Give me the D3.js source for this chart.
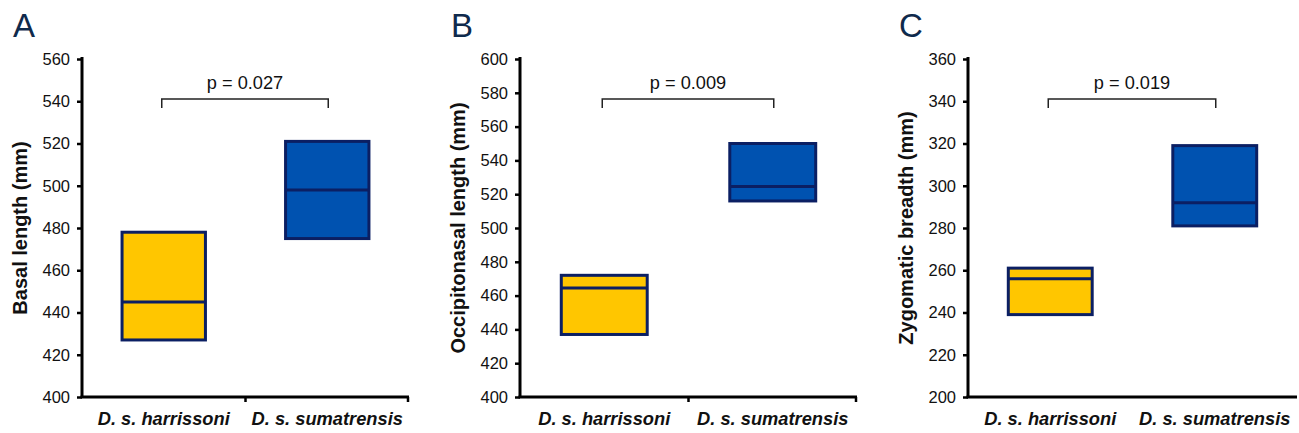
<!DOCTYPE html>
<html><head><meta charset="utf-8">
<script src="https://cdn.jsdelivr.net/npm/d3@7"></script>
<style>body{margin:0;background:#fff}svg{display:block}</style>
</head><body>
<script>
const categories = ["D. s. harrissoni", "D. s. sumatrensis"];
const panelLetters = ["A", "B", "C"];
const yTitles = ["Basal length (mm)", "Occipitonasal length (mm)", "Zygomatic breadth (mm)"];
const yDomains = [[400, 560], [400, 600], [200, 360]];
const pLabels = ["p = 0.027", "p = 0.009", "p = 0.019"];

// box values per category: [harrissoni, sumatrensis]
const basalLow = [427, 475], basalMedian = [445, 498], basalHigh = [478, 521];
const occLow = [437, 516], occMedian = [464.5, 524.5], occHigh = [472, 550];
const zygLow = [239, 281], zygMedian = [256, 292], zygHigh = [261, 319];

const lows = [basalLow, occLow, zygLow];
const medians = [basalMedian, occMedian, zygMedian];
const highs = [basalHigh, occHigh, zygHigh];

const W = 1299, H = 433;
const layout = [
  {x0: 82, x1: 409, bottomTicks: true},
  {x0: 520, x1: 857, bottomTicks: true},
  {x0: 968, x1: 1297, bottomTicks: false}
];
const plotTop = 59, plotBottom = 397;
const fills = ["#FFC600", "#0052B0"];
const stroke = "#0B1F63";
const font = "Arial, 'Liberation Sans', sans-serif";

const svg = d3.select("body").append("svg").attr("width", W).attr("height", H);

layout.forEach((L, i) => {
  const g = svg.append("g");
  const y = d3.scaleLinear().domain(yDomains[i]).range([plotBottom, plotTop]);
  const x = d3.scaleBand().domain(categories).range([L.x0, L.x1])
    .paddingInner(0.49).paddingOuter(0.245);

  // boxes
  categories.forEach((c, j) => {
    g.append("rect")
      .attr("x", x(c)).attr("width", x.bandwidth())
      .attr("y", y(highs[i][j])).attr("height", y(lows[i][j]) - y(highs[i][j]))
      .attr("fill", fills[j]).attr("stroke", stroke).attr("stroke-width", 3);
    g.append("line")
      .attr("x1", x(c)).attr("x2", x(c) + x.bandwidth())
      .attr("y1", y(medians[i][j])).attr("y2", y(medians[i][j]))
      .attr("stroke", stroke).attr("stroke-width", 3);
  });

  // y axis
  const ticks = d3.range(yDomains[i][0], yDomains[i][1] + 1, 20);
  const ya = g.append("g").attr("transform", `translate(${L.x0},0)`)
    .call(d3.axisLeft(y).tickValues(ticks).tickSize(5).tickPadding(7).tickSizeOuter(0));
  ya.select(".domain").attr("stroke", "#000").attr("stroke-width", 3)
    .attr("d", `M0,${plotTop - 2}V${plotBottom}`);
  ya.selectAll(".tick line").attr("stroke", "#000").attr("stroke-width", 2.5);
  ya.selectAll(".tick text").attr("font-family", font).attr("font-size", 16.5).attr("fill", "#111");

  // x axis line
  g.append("line").attr("x1", L.x0 - 1.5).attr("x2", L.x1).attr("y1", plotBottom).attr("y2", plotBottom)
    .attr("stroke", "#000").attr("stroke-width", 3);
  if (L.bottomTicks) {
    [ (L.x0 + L.x1) / 2, L.x1 - 1 ].forEach(px => {
      g.append("line").attr("x1", px).attr("x2", px).attr("y1", plotBottom).attr("y2", plotBottom + 5)
        .attr("stroke", "#000").attr("stroke-width", 2.5);
    });
  }

  // category labels
  categories.forEach(c => {
    g.append("text").attr("x", x(c) + x.bandwidth() / 2).attr("y", 425)
      .attr("text-anchor", "middle").attr("font-family", font).attr("font-size", 18.3)
      .attr("font-weight", "bold").attr("font-style", "italic").attr("fill", "#111").text(c);
  });

  // y title
  g.append("text")
    .attr("transform", `translate(${L.x0 - 55},${(plotTop + plotBottom) / 2}) rotate(-90)`)
    .attr("text-anchor", "middle").attr("font-family", font).attr("font-size", 20)
    .attr("font-weight", "bold").attr("fill", "#111").text(yTitles[i]);

  // panel letter
  g.append("text").attr("x", L.x0 - 69).attr("y", 37).attr("font-family", font)
    .attr("font-size", 33).attr("fill", "#0F2A4C").text(panelLetters[i]);

  // bracket
  const c0 = x(categories[0]) + x.bandwidth() / 2 - 2;
  const c1 = x(categories[1]) + x.bandwidth() / 2 + 1;
  const by = plotTop + 40;
  g.append("path").attr("d", `M${c0},${by + 9}V${by}H${c1}V${by + 9}`)
    .attr("fill", "none").attr("stroke", "#222").attr("stroke-width", 1.5);
  g.append("text").attr("x", (c0 + c1) / 2).attr("y", 89).attr("text-anchor", "middle")
    .attr("font-family", font).attr("font-size", 18.2).attr("fill", "#111").text(pLabels[i]);
});
</script>
</body></html>
